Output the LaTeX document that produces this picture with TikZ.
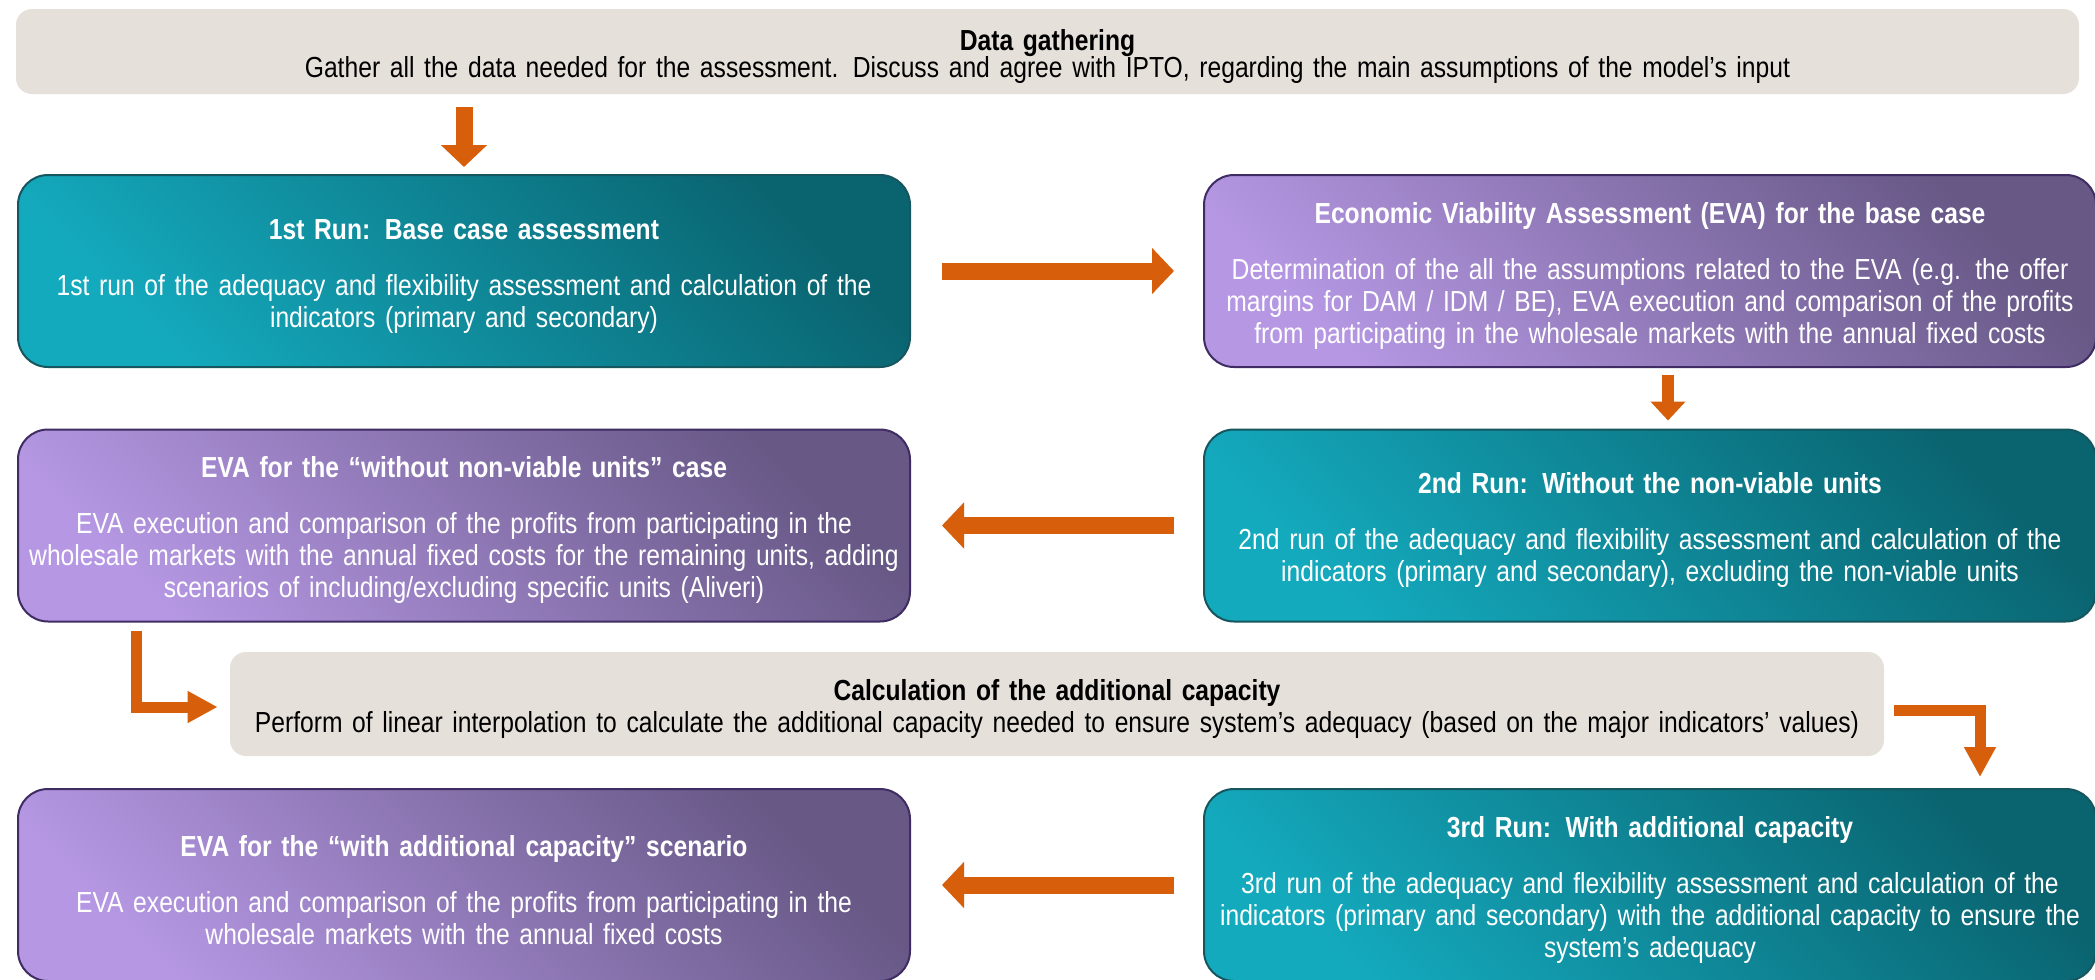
\documentclass[tikz,border=0pt]{standalone}
\usepackage{fontspec}
\setmainfont{Liberation Sans}[FakeStretch=0.85]
\usepackage{xcolor}
\usetikzlibrary{arrows.meta, positioning}

\definecolor{tealdark}{RGB}{10,100,112}
\definecolor{teallight}{RGB}{20,170,190}
\definecolor{tealline}{RGB}{22,86,95}
\definecolor{purpledark}{RGB}{103,88,134}
\definecolor{purplelight}{RGB}{181,151,227}
\definecolor{purpleline}{RGB}{62,44,98}
\definecolor{stagebeige}{RGB}{230,224,218}
\definecolor{flowor}{RGB}{215,95,11}

\begin{document}
\begin{tikzpicture}[>=Latex]
    \tikzstyle{runbox} = [rectangle, draw=tealline, line width=1pt, top color=tealdark, bottom color=teallight, shading angle=-45, rounded corners=15pt, minimum width=446pt, minimum height=96pt, text width=446pt, inner sep=0pt, align=center, text=white, font=\fontsize{14.5}{16}\selectfont, execute at begin node=\rule{0pt}{15.5pt}]
    \tikzstyle{evabox} = [runbox, draw=purpleline, top color=purpledark, bottom color=purplelight, shading angle=-45]
    \tikzstyle{stagebox} = [rectangle, fill=stagebeige, rounded corners=8pt, inner sep=0pt, align=center, text=black, font=\fontsize{14.5}{16}\selectfont, execute at begin node=\rule{0pt}{15.5pt}]
    \tikzstyle{bigarrow} = [draw=flowor, line width=8.5pt, -{Triangle[width=22.5pt,length=11pt]}]
    \tikzstyle{smallarrow} = [draw=flowor, line width=6pt, -{Triangle[width=17pt,length=9.5pt]}]
    \tikzstyle{bendarrow} = [draw=flowor, line width=5.5pt, -{Triangle[width=15pt,length=15pt]}]

    \path [use as bounding box, fill=white] (0,0) rectangle (1047.5pt,-490pt);
    \clip (0,0) rectangle (1047.5pt,-490pt);

    \node [stagebox, minimum width=1031.5pt, text width=1031.5pt, minimum height=42.5pt] (gather) at (523.75pt,-25.75pt) {\textbf{Data gathering}\\[-2.5pt]Gather all the data needed for the assessment. Discuss and agree with IPTO, regarding the main assumptions of the model’s input};
    \node [runbox, below of=gather, node distance=109.75pt, xshift=-291.75pt] (run1) {\textbf{1st Run: Base case assessment}\\[12pt]1st run of the adequacy and flexibility assessment and calculation of the\\indicators (primary and secondary)};
    \node [evabox, right of=run1, node distance=593pt] (evabase) {\textbf{Economic Viability Assessment (EVA) for the base case}\\[12pt]Determination of the all the assumptions related to the EVA (e.g. the offer\\margins for DAM / IDM / BE), EVA execution and comparison of the profits\\from participating in the wholesale markets with the annual fixed costs};
    \node [evabox, below of=run1, node distance=127.25pt] (evawo) {\textbf{EVA for the “without non-viable units” case}\\[12pt]EVA execution and comparison of the profits from participating in the\\wholesale markets with the annual fixed costs for the remaining units, adding\\scenarios of including/excluding specific units (Aliveri)};
    \node [runbox, right of=evawo, node distance=593pt] (run2) {\textbf{2nd Run: Without the non-viable units}\\[12pt]2nd run of the adequacy and flexibility assessment and calculation of the\\indicators (primary and secondary), excluding the non-viable units};
    \node [stagebox, below of=evawo, node distance=89.25pt, xshift=296.5pt, minimum width=827pt, text width=827pt, minimum height=52pt] (calc) {\textbf{Calculation of the additional capacity}\\Perform of linear interpolation to calculate the additional capacity needed to ensure system’s adequacy (based on the major indicators’ values)};
    \node [evabox, below of=evawo, node distance=179.75pt] (evawith) {\textbf{EVA for the “with additional capacity” scenario}\\[12pt]EVA execution and comparison of the profits from participating in the\\wholesale markets with the annual fixed costs};
    \node [runbox, right of=evawith, node distance=593pt] (run3) {\textbf{3rd Run: With additional capacity}\\[12pt]3rd run of the adequacy and flexibility assessment and calculation of the\\indicators (primary and secondary) with the additional capacity to ensure the\\system’s adequacy};

    % Straight flow between the stages
    \draw [bigarrow, shorten <=6.5pt, shorten >=3.5pt] (gather.south -| run1.north) -- (run1.north);
    \draw [bigarrow, shorten <=15.5pt, shorten >=14.5pt] (run1) -- (evabase);
    \draw [smallarrow, shorten <=3.5pt, shorten >=4pt] ([xshift=9pt]evabase.south) -- ([xshift=9pt]run2.north);
    \draw [bigarrow, shorten <=14.5pt, shorten >=15.5pt] (run2) -- (evawo);
    \draw [bigarrow, shorten <=14.5pt, shorten >=15.5pt] (run3) -- (evawith);

    % Elbow arrows round the capacity step
    \draw [bendarrow, shorten <=4pt, shorten >=6pt] ([xshift=-164pt]evawo.south) |- ([yshift=-1.5pt]calc.west);
    \draw [bendarrow, shorten <=5pt, shorten >=5.5pt] ([yshift=-3pt]calc.east) -| ([xshift=165pt]run3.north);
\end{tikzpicture}
\end{document}
